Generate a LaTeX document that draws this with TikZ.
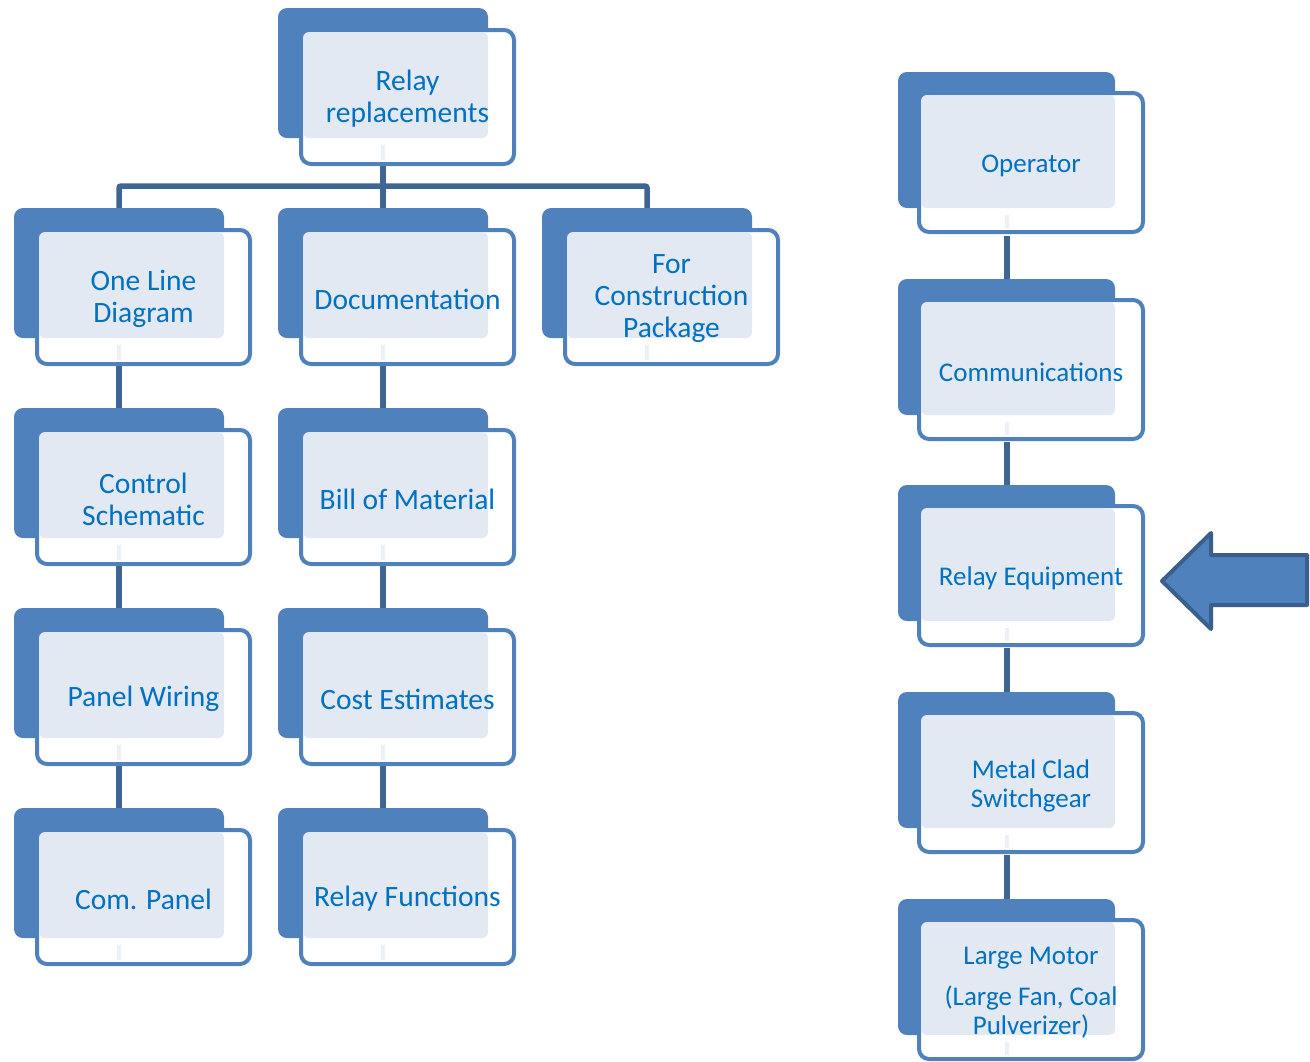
\documentclass[tikz,border=0pt]{standalone}
\usepackage{fontspec}
\setmainfont{Carlito}
\usetikzlibrary{calc}
\definecolor{backblue}{HTML}{4F81BD}
\definecolor{linkblue}{HTML}{3E6594}
\definecolor{textblue}{HTML}{0070C0}
\definecolor{dotfill}{HTML}{E3E9F3}
\definecolor{arrowedge}{HTML}{3A5F8C}

% sizes of the stacked card (back plate, front frame, offset of the frame)
\newcommand\cardsize[6]{%
  \def\bw{#1}\def\bh{#2}\def\fdx{#3}\def\fdy{#4}\def\fw{#5}\def\fh{#6}}

% [#1] text style, #2 name, #3/#4 top-left corner of the back plate, #5 text
\newcommand\orgcard[5][]{%
  \node[backplate, minimum width=\bw pt, minimum height=\bh pt, anchor=north west] (#2) at (#3,#4) {};
  \node[frontframe, minimum width=\fw pt, minimum height=\fh pt, anchor=north west] (#2-f) at (#3+\fdx,#4+\fdy) {};
  \fill[dotfill, rounded corners=6pt] ($(#2-f.north west)+(2,2)$) rectangle (#2.south east);
  \fill[dotfill!70!white] ($(#2.south)+(-2,7)$) rectangle ($(#2.south |- #2-f.south)+(2,-4)$);
  \node[cardtext, #1] at (#2-f.center) {#5};
}

\tikzset{
  backplate/.style={shape=rectangle, fill=backblue, rounded corners=9pt, inner sep=0pt, outer sep=0pt},
  frontframe/.style={shape=rectangle, draw=backblue, line width=4pt, fill=white, rounded corners=10pt, inner sep=0pt, outer sep=0pt},
  cardtext/.style={text=textblue, align=center, font=\fontsize{29.5}{32}\selectfont, inner sep=0pt, yshift=-2pt},
  righttext/.style={font=\fontsize{27}{29}\selectfont, yshift=-1pt},
  link/.style={draw=linkblue, line width=5.5pt},
  bigarrow/.style={fill=backblue, draw=arrowedge, line width=4pt, line join=round},
}

\begin{document}
\begin{tikzpicture}[x=1pt, y=-1pt]
\fill[white] (0,0) rectangle (1310,1061);
\useasboundingbox (0,0) rectangle (1310,1061);

% connectors first, so that the cards sit on top of them
\coordinate (bus) at (383,186);
\coordinate (rrbot) at (383,166);
\coordinate (olTop) at (119,208);
\coordinate (docTop) at (383,208);
\coordinate (fcTop) at (647,208);
\draw[link, rounded corners=2pt] (olTop) |- (bus) -| (fcTop);
\draw[link] (rrbot) -- (docTop);
\foreach \ya/\yb in {366/408, 566/608, 766/808} {
  \draw[link] (119,\ya) -- (119,\yb);
  \draw[link] (383,\ya) -- (383,\yb);
}
\foreach \ya/\yb in {236/279, 442/485, 648/692, 855/899} {
  \draw[link] (1007,\ya) -- (1007,\yb);
}

% left tree
\cardsize{210}{130}{23}{22}{213}{134}
\orgcard{rr}{278}{8}{Relay\\replacements}
\orgcard{ol}{14}{208}{One Line\\Diagram}
\orgcard{doc}{278}{208}{Documentation}
\orgcard{fc}{542}{208}{For\\Construction\\Package}
\orgcard{cs}{14}{408}{Control\\Schematic}
\orgcard{bom}{278}{408}{Bill of Material}
\orgcard{pw}{14}{608}{Panel Wiring}
\orgcard{ce}{278}{608}{Cost Estimates}
\orgcard{cp}{14}{808}{Com. Panel}
\orgcard{rf}{278}{808}{Relay Functions}

% right chain
\cardsize{217}{136}{21}{21}{224}{139}
\orgcard[righttext]{op}{898}{72}{Operator}
\orgcard[righttext]{com}{898}{279}{Communications}
\orgcard[righttext]{re}{898}{485}{Relay Equipment}
\orgcard[righttext]{mc}{898}{692}{Metal Clad\\Switchgear}
\orgcard[righttext]{lm}{898}{899}{Large Motor\\[12pt](Large Fan, Coal\\Pulverizer)}

% pointer toward the relay equipment card
\draw[bigarrow] (1162,581) -- (1211,533) -- (1211,555) -- (1307,555)
  -- (1307,605) -- (1211,605) -- (1211,629) -- cycle;
\end{tikzpicture}
\end{document}
